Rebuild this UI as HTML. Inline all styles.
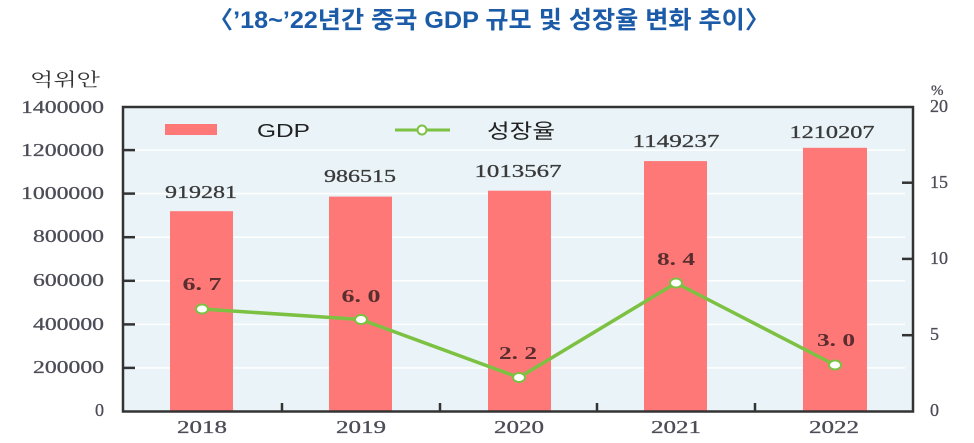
<!DOCTYPE html>
<html><head><meta charset="utf-8"><style>
html,body{margin:0;padding:0;background:#fff;width:974px;height:443px;overflow:hidden}
svg{display:block}
.ax{font-family:"Liberation Serif","Noto Serif CJK KR",serif;fill:#4d4d58;font-size:18px;stroke:#4d4d58;stroke-width:0.3}
.bl{font-family:"Liberation Serif","Noto Serif CJK KR",serif;fill:#3a3a3a;font-size:18px;stroke:#3a3a3a;stroke-width:0.3}
.ll{font-family:"Liberation Serif","Noto Serif CJK KR",serif;fill:#5a2e2e;font-size:18px;font-weight:bold}
</style></head><body>
<svg width="974" height="443" viewBox="0 0 974 443" xmlns="http://www.w3.org/2000/svg">
<text x="208" y="28" textLength="562" lengthAdjust="spacingAndGlyphs" font-family="'Liberation Sans','Noto Sans CJK KR',sans-serif" font-weight="bold" font-size="24" fill="#1b5ba8">〈’18~’22년간 중국 GDP 규모 및 성장율 변화 추이〉</text>

<rect x="123" y="107" width="790" height="304.5" fill="#eaf4f8"/>
<g stroke="#ffffff" stroke-width="1.5">
<line x1="123" y1="150.1" x2="905" y2="150.1"/>
<line x1="123" y1="193.6" x2="905" y2="193.6"/>
<line x1="123" y1="237.2" x2="905" y2="237.2"/>
<line x1="123" y1="280.8" x2="905" y2="280.8"/>
<line x1="123" y1="324.4" x2="905" y2="324.4"/>
<line x1="123" y1="367.9" x2="905" y2="367.9"/>
</g>
<g fill="#ff7878">
<rect x="170" y="211.2" width="63" height="200.3"/>
<rect x="329" y="196.6" width="63" height="214.9"/>
<rect x="488" y="190.7" width="63" height="220.8"/>
<rect x="644" y="161.1" width="63" height="250.4"/>
<rect x="803" y="147.8" width="64" height="263.7"/>
</g>
<rect x="123" y="107" width="790" height="304.5" fill="none" stroke="#333" stroke-width="2.5"/>
<g stroke="#333" stroke-width="2.5">
<line x1="123" y1="150.1" x2="135" y2="150.1"/>
<line x1="123" y1="193.6" x2="135" y2="193.6"/>
<line x1="123" y1="237.2" x2="135" y2="237.2"/>
<line x1="123" y1="280.8" x2="135" y2="280.8"/>
<line x1="123" y1="324.4" x2="135" y2="324.4"/>
<line x1="123" y1="367.9" x2="135" y2="367.9"/>
<line x1="902" y1="182.7" x2="913" y2="182.7"/>
<line x1="902" y1="258.9" x2="913" y2="258.9"/>
<line x1="902" y1="335.2" x2="913" y2="335.2"/>
<line x1="282" y1="403" x2="282" y2="411"/>
<line x1="440" y1="403" x2="440" y2="411"/>
<line x1="597" y1="403" x2="597" y2="411"/>
<line x1="755" y1="403" x2="755" y2="411"/>
</g>
<g class="ax" text-anchor="end">
<text x="104" y="113" textLength="83" lengthAdjust="spacingAndGlyphs">1400000</text>
<text x="104" y="156" textLength="83" lengthAdjust="spacingAndGlyphs">1200000</text>
<text x="104" y="199" textLength="83" lengthAdjust="spacingAndGlyphs">1000000</text>
<text x="104" y="242" textLength="71" lengthAdjust="spacingAndGlyphs">800000</text>
<text x="104" y="286" textLength="71" lengthAdjust="spacingAndGlyphs">600000</text>
<text x="104" y="330" textLength="71" lengthAdjust="spacingAndGlyphs">400000</text>
<text x="104" y="373" textLength="71" lengthAdjust="spacingAndGlyphs">200000</text>
<text x="104" y="416">0</text>
</g>
<text x="30" y="86" textLength="70" lengthAdjust="spacingAndGlyphs" font-family="'Liberation Serif','Noto Serif CJK KR',serif" font-size="18" fill="#333">억위안</text>
<g class="ax">
<text x="931" y="95" font-size="15">%</text>
<text x="930" y="112">20</text>
<text x="930" y="188">15</text>
<text x="930" y="264">10</text>
<text x="930" y="340">5</text>
<text x="930" y="416">0</text>
</g>
<g class="ax" text-anchor="middle">
<text x="202" y="433" textLength="50" lengthAdjust="spacingAndGlyphs">2018</text>
<text x="361" y="433" textLength="50" lengthAdjust="spacingAndGlyphs">2019</text>
<text x="519" y="433" textLength="50" lengthAdjust="spacingAndGlyphs">2020</text>
<text x="676" y="433" textLength="50" lengthAdjust="spacingAndGlyphs">2021</text>
<text x="834" y="433" textLength="50" lengthAdjust="spacingAndGlyphs">2022</text>
</g>
<g class="bl" text-anchor="middle">
<text x="201" y="198" textLength="72" lengthAdjust="spacingAndGlyphs">919281</text>
<text x="360" y="182" textLength="72" lengthAdjust="spacingAndGlyphs">986515</text>
<text x="518" y="177" textLength="87" lengthAdjust="spacingAndGlyphs">1013567</text>
<text x="676" y="147" textLength="87" lengthAdjust="spacingAndGlyphs">1149237</text>
<text x="832" y="138" textLength="85" lengthAdjust="spacingAndGlyphs">1210207</text>
</g>
<polyline points="202,309 361,319.5 519,377.5 676,283 835,365" fill="none" stroke="#7cc142" stroke-width="3.5" stroke-linejoin="round"/>
<g fill="#fff" stroke="#7cc142" stroke-width="2">
<ellipse cx="202" cy="309" rx="6" ry="4.5"/>
<ellipse cx="361" cy="319.5" rx="6" ry="4.5"/>
<ellipse cx="519" cy="377.5" rx="6" ry="4.5"/>
<ellipse cx="676" cy="283" rx="6" ry="4.5"/>
<ellipse cx="835" cy="365" rx="6" ry="4.5"/>
</g>
<g class="ll" text-anchor="middle">
<text x="202" y="290" textLength="39" lengthAdjust="spacingAndGlyphs">6. 7</text>
<text x="361" y="302" textLength="39" lengthAdjust="spacingAndGlyphs">6. 0</text>
<text x="518" y="359" textLength="38" lengthAdjust="spacingAndGlyphs">2. 2</text>
<text x="676" y="265" textLength="38" lengthAdjust="spacingAndGlyphs">8. 4</text>
<text x="836" y="346" textLength="38" lengthAdjust="spacingAndGlyphs">3. 0</text>
</g>
<rect x="165" y="124" width="52" height="11" fill="#ff7878"/>
<text x="257" y="137" textLength="53" lengthAdjust="spacingAndGlyphs" font-family="'Liberation Sans','Noto Sans CJK KR',sans-serif" font-size="18" fill="#222">GDP</text>
<line x1="395" y1="130" x2="450" y2="130" stroke="#7cc142" stroke-width="3"/>
<circle cx="422" cy="130" r="4.5" fill="#fff" stroke="#7cc142" stroke-width="2"/>
<text x="487" y="138" textLength="68" lengthAdjust="spacingAndGlyphs" font-family="'Liberation Sans','Noto Sans CJK KR',sans-serif" font-size="20" fill="#222">성장율</text>
</svg>
</body></html>
